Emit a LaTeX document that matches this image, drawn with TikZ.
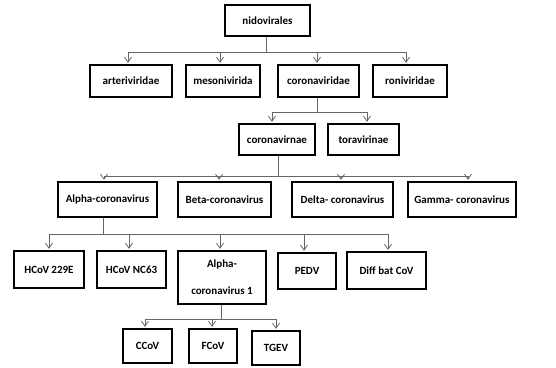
\documentclass[tikz,border=0pt]{standalone}
\usepackage{fontspec}
\setmainfont{Carlito}
\usetikzlibrary{arrows.meta}
\tikzset{
  bx/.style={draw=black, line width=2.3pt, inner sep=0pt, align=center,
    font=\bfseries\fontsize{11}{13}\selectfont},
  conn/.style={draw=black!60, line width=0.8pt},
  arr/.style={conn, -{Straight Barb[length=5pt,width=7pt,line width=0.8pt]}, shorten >=1pt}
}
\begin{document}
\begin{tikzpicture}[x=1pt,y=-1pt]
\useasboundingbox[fill=white] (0,0) rectangle (556,367);
% level 1
\node[bx, minimum width=85, minimum height=31] (nido) at (267.5,20.5) {nidovirales};
% level 2
\node[bx, minimum width=82, minimum height=32] (arter) at (131,81) {arteriviridae};
\node[bx, minimum width=74, minimum height=32] (meso) at (223,81) {mesonivirida};
\node[bx, minimum width=81, minimum height=32] (corv) at (318.5,81) {coronaviridae};
\node[bx, minimum width=74, minimum height=32] (roni) at (410,81) {roniviridae};
% level 3
\node[bx, minimum width=76, minimum height=31] (cnae) at (277,139.5) {coronavirnae};
\node[bx, minimum width=71, minimum height=31] (tora) at (363.5,139.5) {toravirinae};
% level 4
\node[bx, minimum width=99, minimum height=35] (alpha) at (107.5,199.5) {Alpha-coronavirus};
\node[bx, minimum width=93, minimum height=35] (beta) at (224.5,199.5) {Beta-coronavirus};
\node[bx, minimum width=101, minimum height=35] (delta) at (342.5,199.5) {Delta- coronavirus};
\node[bx, minimum width=108, minimum height=35] (gamma) at (462,199.5) {Gamma- coronavirus};
% level 5
\node[bx, minimum width=70, minimum height=37] (h229) at (49,269.5) {HCoV 229E};
\node[bx, minimum width=69, minimum height=37] (nc63) at (131.5,269.5) {HCoV NC63};
\node[bx, minimum width=88, minimum height=53] (a1) at (222,277.5) {Alpha-\\[14pt]coronavirus 1};
\node[bx, minimum width=58, minimum height=36] (pedv) at (307,271) {PEDV};
\node[bx, minimum width=79, minimum height=37] (diff) at (386.5,270.5) {Diff bat CoV};
% level 6
\node[bx, minimum width=49, minimum height=34] (ccov) at (147.5,346) {CCoV};
\node[bx, minimum width=48, minimum height=34] (fcov) at (213,346) {FCoV};
\node[bx, minimum width=48, minimum height=34] (tgev) at (276,348) {TGEV};
% bar levels
\coordinate (b1) at (0,52);
\coordinate (b2) at (0,112);
\coordinate (b3) at (0,176);
\coordinate (b4) at (0,234);
\coordinate (b5) at (0,319);
% connectors level 1 -> 2
\draw[arr] ([xshift=-1.5]nido.south) |- ([xshift=-3]arter.north |- b1) -- ([xshift=-3]arter.north);
\draw[arr] ([xshift=-1.5]nido.south) |- ([xshift=-3]meso.north |- b1) -- ([xshift=-3]meso.north);
\draw[arr] ([xshift=-1.5]nido.south) |- ([xshift=-1.5]corv.north |- b1) -- ([xshift=-1.5]corv.north);
\draw[arr] ([xshift=-1.5]nido.south) |- ([xshift=-4]roni.north |- b1) -- ([xshift=-4]roni.north);
% 2 -> 3
\draw[arr] ([xshift=-1.5]corv.south) |- ([xshift=-5]cnae.north |- b2) -- ([xshift=-5]cnae.north);
\draw[arr] ([xshift=-1.5]corv.south) |- ([xshift=3.5]tora.north |- b2) -- ([xshift=3.5]tora.north);
% 3 -> 4
\draw[arr] ([xshift=1]cnae.south) |- ([xshift=-3.5]alpha.north |- b3) -- ([xshift=-3.5]alpha.north);
\draw[arr] ([xshift=1]cnae.south) |- ([xshift=-5.5]beta.north |- b3) -- ([xshift=-5.5]beta.north);
\draw[arr] ([xshift=1]cnae.south) |- ([xshift=-1.5]delta.north |- b3) -- ([xshift=-1.5]delta.north);
\draw[arr] ([xshift=1]cnae.south) |- ([xshift=6]gamma.north |- b3) -- ([xshift=6]gamma.north);
% 4 -> 5
\draw[arr] ([xshift=-4.5]alpha.south) |- (h229.north |- b4) -- (h229.north);
\draw[arr] ([xshift=-4.5]alpha.south) |- ([xshift=-2.5]nc63.north |- b4) -- ([xshift=-2.5]nc63.north);
\draw[arr] ([xshift=-4.5]alpha.south) |- ([xshift=-2]a1.north |- b4) -- ([xshift=-2]a1.north);
\draw[arr] ([xshift=-4.5]alpha.south) |- ([xshift=-3]pedv.north |- b4) -- ([xshift=-3]pedv.north);
\draw[arr] ([xshift=-4.5]alpha.south) |- ([xshift=1.5]diff.north |- b4) -- ([xshift=1.5]diff.north);
% 5 -> 6
\draw[arr] ([xshift=-1]a1.south) |- ([xshift=-2.5]ccov.north |- b5) -- ([xshift=-2.5]ccov.north);
\draw[arr] ([xshift=-1]a1.south) |- ([xshift=-1]fcov.north |- b5) -- ([xshift=-1]fcov.north);
\draw[arr] ([xshift=-1]a1.south) |- (tgev.north |- b5) -- (tgev.north);
\end{tikzpicture}
\end{document}
